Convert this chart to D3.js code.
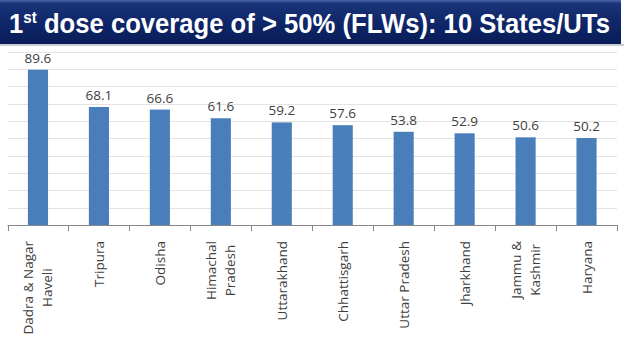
<!DOCTYPE html>
<html>
<head>
<meta charset="utf-8">
<script src="https://cdn.jsdelivr.net/npm/d3@7"></script>
<style>
  body { margin: 0; background: #fff; }
  svg { display: block; }
</style>
</head>
<body>
<svg id="body" width="624" height="351"></svg>
<script>
let states = [
  ["Dadra & Nagar", "Haveli"], ["Tripura"], ["Odisha"], ["Himachal", "Pradesh"],
  ["Uttarakhand"], ["Chhattisgarh"], ["Uttar Pradesh"], ["Jharkhand"],
  ["Jammu &", "Kashmir"], ["Haryana"]
];
let coverage = [89.6, 68.1, 66.6, 61.6, 59.2, 57.6, 53.8, 52.9, 50.6, 50.2];
let gridTicks = [10, 20, 30, 40, 50, 60, 70, 80, 90, 100];

let svg = d3.select("#body");

// title banner
let defs = svg.append("defs");
let grad = defs.append("linearGradient").attr("id", "banner")
  .attr("x1", 0).attr("y1", 0).attr("x2", 0).attr("y2", 1);
grad.append("stop").attr("offset", "0%").attr("stop-color", "#4a68ad");
grad.append("stop").attr("offset", "8%").attr("stop-color", "#1a3478");
grad.append("stop").attr("offset", "60%").attr("stop-color", "#0d2466");
grad.append("stop").attr("offset", "100%").attr("stop-color", "#0a1d57");

svg.append("rect").attr("x", 0).attr("y", 44).attr("width", 624).attr("height", 2)
  .attr("fill", "#c8cdd8");
svg.append("rect").attr("x", 0).attr("y", 0).attr("width", 621).attr("height", 44)
  .attr("fill", "url(#banner)");

// title is horizontally squeezed to fit the banner, like the original slide
let titleG = svg.append("g");
let title = titleG.append("text")
  .attr("x", 0).attr("y", 0)
  .attr("fill", "#fff")
  .style("font-family", "'Liberation Sans', Arial, sans-serif")
  .style("font-weight", "bold")
  .style("font-size", "27px");
title.append("tspan").text("1");
title.append("tspan").attr("dy", -10).style("font-size", "16px").text("st");
title.append("tspan").attr("dy", 10).text(" dose coverage of > 50% (FLWs): 10 States/UTs");
let tw = title.node().getComputedTextLength();
titleG.attr("transform", "translate(9,33) scale(" + (601 / tw) + ",1)");

let x = d3.scaleBand()
  .domain(d3.range(states.length))
  .range([7.5, 617])
  .paddingInner(0.67)
  .paddingOuter(0.335);

let xTicks = d3.scaleBand()
  .domain(d3.range(states.length))
  .range([7.5, 617]);

let y = d3.scaleLinear()
  .domain([0, 100])
  .range([225, 51.7]);

// gridlines
svg.append("g")
  .selectAll("line")
  .data(gridTicks)
  .enter()
  .append("line")
  .attr("x1", 7.5).attr("x2", 617)
  .attr("y1", d => Math.round(y(d)) + 0.5)
  .attr("y2", d => Math.round(y(d)) + 0.5)
  .attr("stroke", "#e3e3e3")
  .attr("stroke-width", 1);

// bars
svg.append("g")
  .selectAll("rect")
  .data(coverage)
  .enter()
  .append("rect")
  .attr("x", (d, i) => x(i))
  .attr("width", x.bandwidth())
  .attr("y", d => y(d))
  .attr("height", d => y(0) - y(d))
  .attr("fill", "#4a7ebb");

// value labels
svg.append("g")
  .selectAll("text")
  .data(coverage)
  .enter()
  .append("text")
  .attr("x", (d, i) => x(i) + x.bandwidth() / 2)
  .attr("y", d => y(d) - 7)
  .attr("text-anchor", "middle")
  .attr("fill", "#404040")
  .style("font-family", "'Open Sans', sans-serif")
  .style("font-size", "13.5px")
  .text(d => d.toFixed(1));

// x axis baseline and ticks
let axis = svg.append("g").attr("stroke", "#868686");
axis.append("line")
  .attr("x1", 7.5).attr("x2", 617)
  .attr("y1", 225.5).attr("y2", 225.5);
axis.selectAll("line.tick")
  .data(d3.range(states.length + 1))
  .enter()
  .append("line")
  .attr("class", "tick")
  .attr("x1", i => Math.round(i < states.length ? xTicks(i) : 617) + 0.5)
  .attr("x2", i => Math.round(i < states.length ? xTicks(i) : 617) + 0.5)
  .attr("y1", 225).attr("y2", 231);

// category labels, rotated
let lineH = 19;
let labels = svg.append("g")
  .selectAll("g")
  .data(states)
  .enter()
  .append("g")
  .attr("transform", (d, i) => "translate(" + (x(i) + x.bandwidth() / 2) + ",241) rotate(-90)");

labels.each(function(lines) {
  let g = d3.select(this);
  let texts = lines.map((t, k) => g.append("text")
    .attr("fill", "#404040")
    .style("font-family", "'Open Sans', sans-serif")
    .style("font-size", "13.5px")
    .attr("text-anchor", "middle")
    .attr("y", (k - (lines.length - 1) / 2) * lineH + 5)
    .text(t));
  let maxLen = d3.max(texts, t => t.node().getComputedTextLength());
  texts.forEach(t => t.attr("x", -maxLen / 2));
});
</script>
</body>
</html>
